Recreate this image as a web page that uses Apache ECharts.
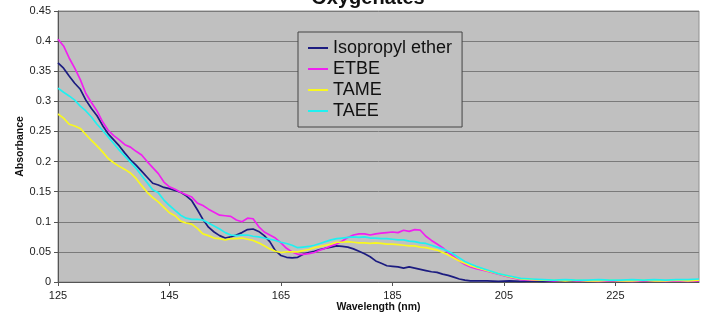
<!DOCTYPE html>
<html>
<head>
<meta charset="utf-8">
<title>Oxygenates</title>
<script src="https://cdn.jsdelivr.net/npm/echarts@6/dist/echarts.min.js"></script>
<style>
  html, body { margin: 0; padding: 0; background: #ffffff; }
  #chart { width: 703px; height: 325px; }
</style>
</head>
<body>
<div id="chart"></div>
<script>
// Wavelength grid (nm): 1 nm steps to 200, then 2 nm steps to 240
const wavelength = [
  125,126,127,128,129,130,131,132,133,134,
  135,136,137,138,139,140,141,142,143,144,
  145,146,147,148,149,150,151,152,153,154,
  155,156,157,158,159,160,161,162,163,164,
  165,166,167,168,169,170,171,172,173,174,
  175,176,177,178,179,180,181,182,183,184,
  185,186,187,188,189,190,191,192,193,194,
  195,196,197,198,199,200,
  202,204,206,208,210,212,214,216,218,220,
  222,224,226,228,230,232,234,236,238,240
];

const isopropylEther = [
  0.364,0.355,0.342,0.330,0.320,0.302,0.288,0.276,0.260,0.246,
  0.236,0.226,0.214,0.203,0.194,0.184,0.174,0.164,0.161,0.157,
  0.155,0.152,0.149,0.143,0.135,0.120,0.104,0.091,0.083,0.077,
  0.073,0.075,0.078,0.082,0.087,0.088,0.084,0.077,0.067,0.052,
  0.044,0.041,0.040,0.041,0.046,0.049,0.051,0.054,0.056,0.058,
  0.060,0.059,0.058,0.055,0.051,0.047,0.042,0.035,0.031,0.027,
  0.026,0.025,0.023,0.025,0.023,0.021,0.019,0.017,0.016,0.013,
  0.011,0.008,0.005,0.003,0.002,0.002,
  0.002,0.001,0.002,0.001,0.002,0.001,0.002,0.001,0.002,0.001,
  0.002,0.002,0.001,0.002,0.001,0.002,0.001,0.002,0.001,0.002
];

const etbe = [
  0.403,0.392,0.372,0.355,0.336,0.313,0.298,0.284,0.266,0.252,
  0.243,0.236,0.228,0.224,0.217,0.211,0.200,0.190,0.180,0.166,
  0.158,0.154,0.149,0.145,0.141,0.131,0.127,0.121,0.116,0.111,
  0.110,0.109,0.103,0.100,0.106,0.105,0.092,0.083,0.078,0.073,
  0.065,0.056,0.050,0.046,0.046,0.047,0.049,0.053,0.056,0.060,
  0.063,0.068,0.074,0.078,0.080,0.080,0.078,0.080,0.081,0.082,
  0.083,0.082,0.086,0.084,0.087,0.086,0.076,0.069,0.063,0.057,
  0.049,0.042,0.035,0.029,0.025,0.022,
  0.018,0.013,0.008,0.004,0.003,0.003,0.002,0.003,0.002,0.002,
  0.001,0.002,0.002,0.001,0.002,0.002,0.001,0.002,0.001,0.002
];

const tame = [
  0.279,0.272,0.262,0.259,0.255,0.245,0.235,0.226,0.216,0.205,
  0.198,0.192,0.187,0.181,0.172,0.160,0.149,0.140,0.133,0.124,
  0.115,0.110,0.101,0.098,0.096,0.089,0.080,0.077,0.073,0.072,
  0.070,0.072,0.072,0.073,0.071,0.069,0.065,0.060,0.055,0.051,
  0.049,0.050,0.050,0.050,0.052,0.054,0.057,0.059,0.061,0.063,
  0.066,0.066,0.067,0.066,0.065,0.065,0.064,0.065,0.064,0.063,
  0.063,0.062,0.061,0.060,0.060,0.058,0.057,0.055,0.053,0.049,
  0.045,0.040,0.035,0.031,0.027,0.024,
  0.019,0.014,0.009,0.005,0.004,0.003,0.003,0.002,0.003,0.002,
  0.002,0.003,0.002,0.002,0.003,0.002,0.002,0.003,0.002,0.003
];

const taee = [
  0.322,0.315,0.309,0.302,0.292,0.284,0.274,0.262,0.252,0.241,
  0.230,0.219,0.209,0.199,0.189,0.177,0.165,0.153,0.148,0.136,
  0.127,0.119,0.111,0.106,0.104,0.104,0.103,0.098,0.093,0.088,
  0.082,0.078,0.077,0.078,0.078,0.076,0.075,0.073,0.071,0.069,
  0.066,0.064,0.061,0.057,0.058,0.059,0.061,0.064,0.067,0.070,
  0.072,0.073,0.074,0.075,0.074,0.075,0.073,0.073,0.072,0.072,
  0.071,0.070,0.070,0.068,0.067,0.065,0.064,0.061,0.058,0.055,
  0.051,0.046,0.040,0.034,0.030,0.026,
  0.020,0.014,0.010,0.006,0.005,0.004,0.003,0.004,0.003,0.003,
  0.004,0.003,0.003,0.004,0.003,0.004,0.003,0.004,0.004,0.005
];

const seriesNames = ['Isopropyl ether', 'ETBE', 'TAME', 'TAEE'];
const xTickValues = [125, 145, 165, 185, 205, 225];

const pair = (ys) => wavelength.map((x, i) => [x, ys[i]]);

const chart = echarts.init(document.getElementById('chart'), null, { renderer: 'canvas' });
const font = '"Liberation Sans", Arial, sans-serif';

const lineSeries = (name, ys, color) => ({
  name: name,
  type: 'line',
  data: pair(ys),
  showSymbol: false,
  symbol: 'none',
  lineStyle: { color: color, width: 1.7 },
  itemStyle: { color: color },
  animation: false
});

chart.setOption({
  animation: false,
  backgroundColor: '#ffffff',
  title: {
    text: 'Oxygenates',
    left: 368,
    textAlign: 'center',
    top: -12,
    padding: 0,
    textStyle: { fontFamily: font, fontSize: 20, fontWeight: 'bold', color: '#111' }
  },
  legend: {
    data: seriesNames,
    orient: 'vertical',
    left: 298,
    top: 32,
    padding: [6, 10, 6, 10],
    icon: 'rect',
    itemWidth: 20,
    itemHeight: 2,
    itemGap: 1,
    borderColor: '#444',
    borderWidth: 1,
    backgroundColor: '#c0c0c0',
    textStyle: { fontFamily: font, fontSize: 18, color: '#111', lineHeight: 20 }
  },
  grid: {
    left: 58,
    right: 4,
    top: 11,
    bottom: 43,
    show: true,
    backgroundColor: '#c0c0c0',
    borderColor: '#909090',
    borderWidth: 1
  },
  xAxis: {
    type: 'value',
    min: 125,
    max: 240,
    name: 'Wavelength (nm)',
    nameLocation: 'middle',
    nameGap: 20,
    nameMoveOverlap: false,
    nameTextStyle: { fontFamily: font, fontSize: 10.5, fontWeight: 'bold', color: '#111' },
    axisLine: { show: true, onZero: false, lineStyle: { color: '#555', width: 1 } },
    axisTick: { show: true, length: 4, customValues: xTickValues, lineStyle: { color: '#555' } },
    axisLabel: { customValues: xTickValues, fontFamily: font, fontSize: 11, color: '#222', margin: 8 },
    splitLine: { show: false }
  },
  yAxis: {
    type: 'value',
    min: 0,
    max: 0.45,
    interval: 0.05,
    name: 'Absorbance',
    nameLocation: 'middle',
    nameGap: 32,
    nameMoveOverlap: false,
    nameTextStyle: { fontFamily: font, fontSize: 10.5, fontWeight: 'bold', color: '#111' },
    axisLine: { show: true, lineStyle: { color: '#555', width: 1 } },
    axisTick: { show: true, length: 4, lineStyle: { color: '#555' } },
    axisLabel: { fontFamily: font, fontSize: 11, color: '#222', margin: 7 },
    splitLine: { show: true, lineStyle: { color: '#7a7a7a', width: 1 } }
  },
  series: [
    lineSeries(seriesNames[0], isopropylEther, '#1c1c80'),
    lineSeries(seriesNames[1], etbe, '#f020f0'),
    lineSeries(seriesNames[2], tame, '#f8f820'),
    lineSeries(seriesNames[3], taee, '#20f0f0')
  ]
});
</script>
</body>
</html>
